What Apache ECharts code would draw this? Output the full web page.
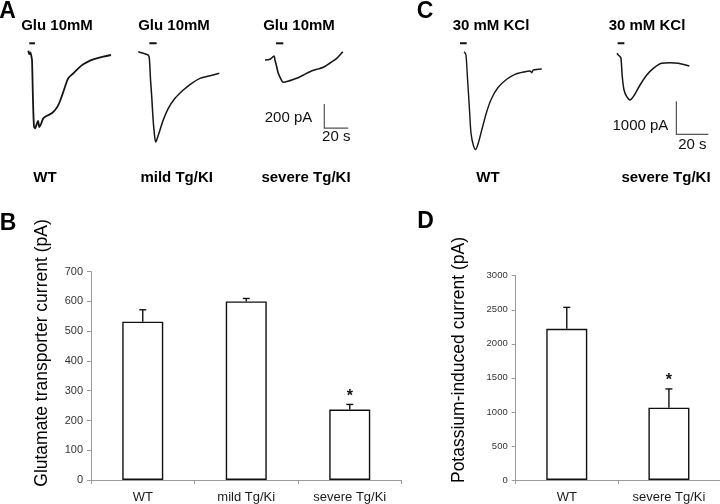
<!DOCTYPE html>
<html><head><meta charset="utf-8">
<script src="https://cdn.jsdelivr.net/npm/echarts@6/dist/echarts.min.js"></script>
<style>html,body{margin:0;padding:0;background:#fff}#c{width:720px;height:504px}</style>
</head><body><div id="c"></div>
<script>
// ---------- DATA ----------
// Current traces: [time (s), current (pA)]
const gluTraceWT = [[0,12],[0.8,-17],[1.7,-4],[2.5,-33],[3.1,-67],[3.9,-400],[4.75,-621],[5.6,-636],[6.8,-608],[8.1,-575],[9.2,-625],[10.6,-600],[12.5,-553],[15.3,-533],[19.5,-511],[22.3,-483],[25,-442],[27.8,-372],[30.6,-289],[33.3,-219],[37.5,-178],[41.7,-136],[45.8,-103],[51.4,-72],[57,-53],[62.5,-39],[68.9,-25]];
const gluTraceMild = [[0,0],[4.2,-13],[8.3,-28],[9.2,-55],[10.2,-236],[11.2,-375],[12.25,-553],[13.1,-653],[14.5,-753],[16.7,-694],[20.8,-569],[25,-472],[30.6,-388],[37.5,-319],[44.5,-263],[51.4,-222],[59.8,-200],[67.5,-180]];
const gluTraceSevere = [[0,0],[4.2,6],[7.5,33],[8.3,0],[9.6,-50],[11.1,-111],[13.9,-172],[15.25,-186],[20.8,-172],[26.4,-153],[32,-125],[37.5,-97],[43.1,-78],[48.6,-61],[54.2,-25],[59.8,14],[64.8,69]];
const kclTraceWT = [[0,0],[0.6,-30],[1.25,-100],[2.25,-858],[3.06,-1464],[3.56,-1867],[4.4,-2473],[5.8,-2827],[7.2,-2964],[8.9,-2776],[11.1,-2373],[14.2,-1818],[17.3,-1412],[21.4,-1079],[26.7,-836],[31.9,-685],[38.1,-606],[41.25,-585],[42.3,-636],[43.3,-555],[48.6,-524]];
const kclTraceSevere = [[0,0],[0.8,-52],[1.9,-103],[2.5,-152],[3.3,-709],[4.4,-1112],[6.1,-1315],[8.1,-1415],[10.2,-1315],[14.4,-961],[18.6,-658],[22.7,-455],[27.9,-303],[33.1,-285],[38.3,-303],[45.2,-385]];
// Application bars: [start s, end s]
const gluStim = [[0.8,5.6],[9.2,15.3],[9.2,15.25]];
const kclStim = [[-2.5,1.7],[0.4,4.6]];
// Scale bars
const gluScale = {pA: 200, s: 20};
const kclScale = {pA: 1000, s: 20};
// Trace captions
const gluTitles = ['Glu 10mM','Glu 10mM','Glu 10mM'];
const gluGroups = ['WT','mild Tg/KI','severe Tg/KI'];
const kclTitles = ['30 mM KCl','30 mM KCl'];
const kclGroups = ['WT','severe Tg/KI'];
// Bar charts
const gluCats = ['WT','mild Tg/Ki','severe Tg/Ki'];
const gluMean = [532, 600, 237];
const gluSem = [40, 10, 17];
const gluSig = [0, 0, 1];
const kCats = ['WT','severe Tg/Ki'];
const kMean = [2220, 1062];
const kSem = [315, 275];
const kSig = [0, 1];
const gluTicks = {min: 0, max: 700, interval: 100};
const kTicks = {min: 0, max: 3000, interval: 500};

// ---------- LAYOUT ----------
const FF = 'Liberation Sans, Arial, sans-serif';
const A = {pxS: 1.2, pxA: 0.12, x0: [28.3, 138.3, 265], y0: [52, 51.7, 60], stimY: [72.5, 70, 139], tmin: -10, tmax: 70, imin: -800, imax: 200};
const C = {pxS: 1.6, pxA: 0.033, x0: [464, 617], y0: [51.7, 53.3], stimY: [255, 303], tmin: -10, tmax: 60, imin: -3000, imax: 1000};
const gluScaleAnchor = [49.4, -367];
const kclScaleAnchor = [37.1, -1455];

const grids = [], xAxes = [], yAxes = [], series = [];
function addTraceGrid(L, i, trace, stim, lw) {
  const g = grids.length;
  grids.push({left: L.x0[i] + L.tmin * L.pxS, top: L.y0[i] - L.imax * L.pxA,
    width: (L.tmax - L.tmin) * L.pxS, height: (L.imax - L.imin) * L.pxA});
  xAxes.push({gridIndex: g, type: 'value', min: L.tmin, max: L.tmax, show: false});
  yAxes.push({gridIndex: g, type: 'value', min: L.imin, max: L.imax, show: false});
  series.push({type: 'line', xAxisIndex: g, yAxisIndex: g, data: trace, showSymbol: false, symbol: 'none',
    smooth: 0.3, clip: false, lineStyle: {color: '#151515', width: lw}});
  series.push({type: 'line', xAxisIndex: g, yAxisIndex: g, data: [[stim[0], L.stimY[i]], [stim[1], L.stimY[i]]],
    showSymbol: false, symbol: 'none', clip: false, lineStyle: {color: '#111', width: 2}});
  return g;
}
addTraceGrid(A, 0, gluTraceWT, gluStim[0], 1.8);
addTraceGrid(A, 1, gluTraceMild, gluStim[1], 1.5);
const gSevA = addTraceGrid(A, 2, gluTraceSevere, gluStim[2], 1.6);
addTraceGrid(C, 0, kclTraceWT, kclStim[0], 1.4);
const gSevC = addTraceGrid(C, 1, kclTraceSevere, kclStim[1], 1.5);

function scaleBar(g, anchor, sb, o) {
  return {type: 'custom', xAxisIndex: g, yAxisIndex: g, clip: false, data: [anchor],
    renderItem(params, api) {
      const top = api.coord([anchor[0], anchor[1]]);
      const bot = api.coord([anchor[0], anchor[1] - sb.pA]);
      const right = api.coord([anchor[0] + sb.s, anchor[1] - sb.pA]);
      return {type: 'group', children: [
        {type: 'polyline', shape: {points: [top, bot, right]}, style: {stroke: '#555', lineWidth: 1.2, fill: null}},
        {type: 'text', style: {text: sb.pA + ' pA', x: top[0] - o.lx, y: (top[1] + bot[1]) / 2 + o.ly, align: 'right', verticalAlign: 'middle', fontSize: 15, fontFamily: FF, fill: '#111'}},
        {type: 'text', style: {text: sb.s + ' s', x: (bot[0] + right[0]) / 2, y: bot[1] + o.sy, align: 'center', verticalAlign: 'middle', fontSize: 15, fontFamily: FF, fill: '#111'}}
      ]};
    }};
}
series.push(scaleBar(gSevA, gluScaleAnchor, gluScale, {lx: 12, ly: 2, sy: 9}));
series.push(scaleBar(gSevC, kclScaleAnchor, kclScale, {lx: 8, ly: 8, sy: 11}));

function addBarGrid(box, cats, mean, sem, sig, ticks, labelSize) {
  const g = grids.length;
  grids.push(box);
  xAxes.push({gridIndex: g, type: 'category', data: cats,
    axisLine: {lineStyle: {color: '#9a9a9a', width: 1}},
    axisTick: {show: true, length: 4, lineStyle: {color: '#9a9a9a'}},
    axisLabel: {fontSize: 13, color: '#1a1a1a', margin: 11, fontFamily: FF}});
  yAxes.push({gridIndex: g, type: 'value', min: ticks.min, max: ticks.max, interval: ticks.interval,
    axisLine: {show: true, lineStyle: {color: '#9a9a9a', width: 1}},
    axisTick: {show: true, length: 4, lineStyle: {color: '#9a9a9a'}},
    splitLine: {show: false},
    axisLabel: {fontSize: labelSize, color: '#333', margin: 8, fontFamily: FF, formatter: v => String(v)}});
  series.push({type: 'bar', xAxisIndex: g, yAxisIndex: g, data: mean, barWidth: 41,
    itemStyle: {color: '#fff', borderColor: '#111', borderWidth: 1.4}});
  series.push({type: 'custom', xAxisIndex: g, yAxisIndex: g, clip: false,
    data: mean.map((m, i) => [i, m, sem[i], sig[i]]),
    renderItem(params, api) {
      const i = api.value(0), m = api.value(1), e = api.value(2), s = api.value(3);
      const p0 = api.coord([i, m]), p1 = api.coord([i, m + e]);
      const ch = [
        {type: 'line', shape: {x1: p0[0], y1: p0[1], x2: p1[0], y2: p1[1]}, style: {stroke: '#111', lineWidth: 1.4}},
        {type: 'line', shape: {x1: p1[0] - 3.5, y1: p1[1], x2: p1[0] + 3.5, y2: p1[1]}, style: {stroke: '#111', lineWidth: 1.4}}
      ];
      if (s) ch.push({type: 'text', style: {text: '*', x: p1[0], y: p1[1] - 8, align: 'center', verticalAlign: 'middle', fontSize: 16, fontWeight: 'bold', fontFamily: FF, fill: '#111'}});
      return {type: 'group', children: ch};
    }});
}
addBarGrid({left: 91, top: 271.7, width: 310.5, height: 208.3}, gluCats, gluMean, gluSem, gluSig, gluTicks, 11);
addBarGrid({left: 515.7, top: 275.7, width: 204.3, height: 204.3}, kCats, kMean, kSem, kSig, kTicks, 9.5);

function txt(t, x, y, size, bold, rot) {
  return {type: 'text', x: x, y: y, rotation: rot || 0,
    style: {text: t, align: 'center', verticalAlign: 'middle', fontSize: size, fontWeight: bold ? 'bold' : 'normal', fontFamily: FF, fill: '#000'}};
}
const gluTitleX = [57, 174, 299], kclTitleX = [491, 647];
const gluGroupX = [45, 176.7, 306], kclGroupX = [488, 666];
const graphics = [
  txt('A', 7.5, 11.5, 23, true), txt('C', 425, 11.5, 23, true),
  txt('B', 8, 223.5, 23, true), txt('D', 425.5, 222, 23, true),
  txt('Glutamate transporter current (pA)', 42, 353, 17.5, false, Math.PI / 2),
  txt('Potassium-induced current (pA)', 459, 360, 17.5, false, Math.PI / 2)
];
gluTitles.forEach((t, i) => graphics.push(txt(t, gluTitleX[i], 26, 15, true)));
kclTitles.forEach((t, i) => graphics.push(txt(t, kclTitleX[i], 26, 15, true)));
gluGroups.forEach((t, i) => graphics.push(txt(t, gluGroupX[i], 178, 15, true)));
kclGroups.forEach((t, i) => graphics.push(txt(t, kclGroupX[i], 178, 15, true)));

const chart = echarts.init(document.getElementById('c'), null, {renderer: 'canvas'});
chart.setOption({animation: false, backgroundColor: '#fff', grid: grids, xAxis: xAxes, yAxis: yAxes, series: series, graphic: graphics});
</script></body></html>
